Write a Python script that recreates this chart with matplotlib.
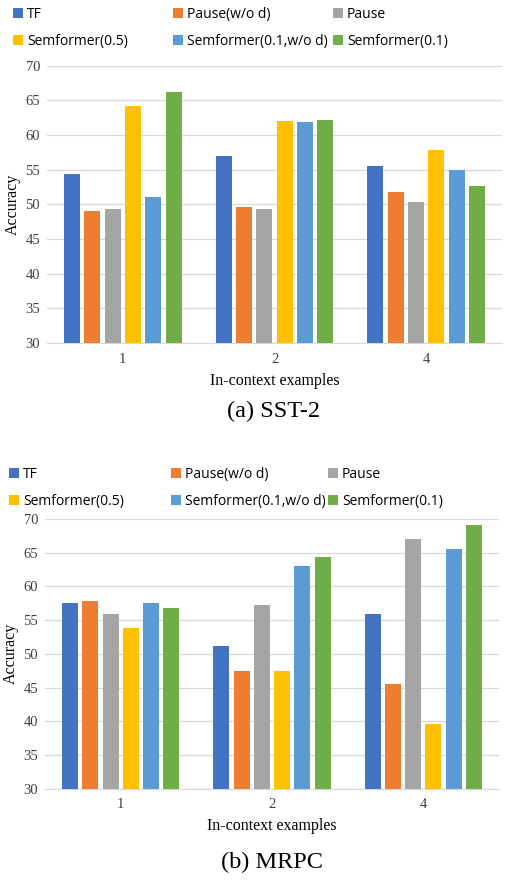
import numpy as np
import matplotlib
matplotlib.use("Agg")
import matplotlib.pyplot as plt

categories = ["1", "2", "4"]
series = ["TF", "Pause(w/o d)", "Pause", "Semformer(0.5)", "Semformer(0.1,w/o d)", "Semformer(0.1)"]
colors = ["#4472C4", "#ED7D31", "#A5A5A5", "#FFC000", "#5B9BD5", "#70AD47"]

sst2 = [
    [54.4, 57.0, 55.5],   # TF
    [49.1, 49.6, 51.8],   # Pause(w/o d)
    [49.4, 49.3, 50.4],   # Pause
    [64.2, 62.0, 57.9],   # Semformer(0.5)
    [51.1, 61.9, 54.9],   # Semformer(0.1,w/o d)
    [66.2, 62.1, 52.7],   # Semformer(0.1)
]
mrpc = [
    [57.5, 51.2, 55.9],
    [57.8, 47.5, 45.5],
    [55.9, 57.3, 67.1],
    [53.8, 47.5, 39.6],
    [57.5, 63.0, 65.6],
    [56.8, 64.4, 69.1],
]

W, H = 508, 881
fig = plt.figure(figsize=(W / 100, H / 100), dpi=100)

serif = "Liberation Serif"
sans = "Open Sans"


def draw_panel(rect, data, leg_y, leg_x):
    ax = fig.add_axes(rect)
    x = np.arange(len(categories))
    step = 0.134
    for i, vals in enumerate(data):
        ax.bar(x + (i - 2.5) * step, np.array(vals) - 30, bottom=30,
               width=0.106, color=colors[i], label=series[i], zorder=3)
    ax.set_ylim(30, 70)
    ax.set_xlim(-0.5, 2.5)
    ax.set_yticks(range(30, 71, 5))
    ax.set_xticks(x)
    ax.set_xticklabels(categories)
    ax.yaxis.grid(True, color="#D9D9D9", linewidth=0.9, zorder=0)
    for s in ["top", "right", "left"]:
        ax.spines[s].set_visible(False)
    ax.spines["bottom"].set_color("#D9D9D9")
    ax.tick_params(length=0, labelsize=10.5)
    for lab in ax.get_xticklabels() + ax.get_yticklabels():
        lab.set_fontfamily(serif)
        lab.set_color("#404040")
    ax.tick_params(axis="x", pad=7)
    ax.tick_params(axis="y", pad=5)
    ax.set_ylabel("Accuracy", fontfamily=serif, fontsize=11.5, labelpad=3)
    ax.set_xlabel("In-context examples", fontfamily=serif, fontsize=11.5, labelpad=5)

    # legend: three columns, two rows each
    handles, labels = ax.get_legend_handles_labels()
    for c in range(3):
        hs = [handles[c], handles[c + 3]]
        ls = [labels[c], labels[c + 3]]
        fig.legend(hs, ls, loc="upper left",
                   bbox_to_anchor=(leg_x[c] / W, 1 - leg_y / H),
                   frameon=False, handlelength=0.7, handleheight=0.7,
                   handletextpad=0.3, labelspacing=0.85, borderpad=0,
                   borderaxespad=0, prop={"family": sans, "size": 10})
    return ax


draw_panel([47 / W, 1 - 343 / H, 455 / W, 277.3 / H], sst2, 7, [13, 173, 333])
fig.text(274 / W, 1 - 411 / H, "(a) SST-2", ha="center", va="center",
         fontfamily=serif, fontsize=17.5)

draw_panel([45 / W, 1 - 788.7 / H, 454 / W, 269.7 / H], mrpc, 467, [9, 171, 328])
fig.text(272 / W, 1 - 862 / H, "(b) MRPC", ha="center", va="center",
         fontfamily=serif, fontsize=17.5)

fig.savefig("out.png", dpi=100)
